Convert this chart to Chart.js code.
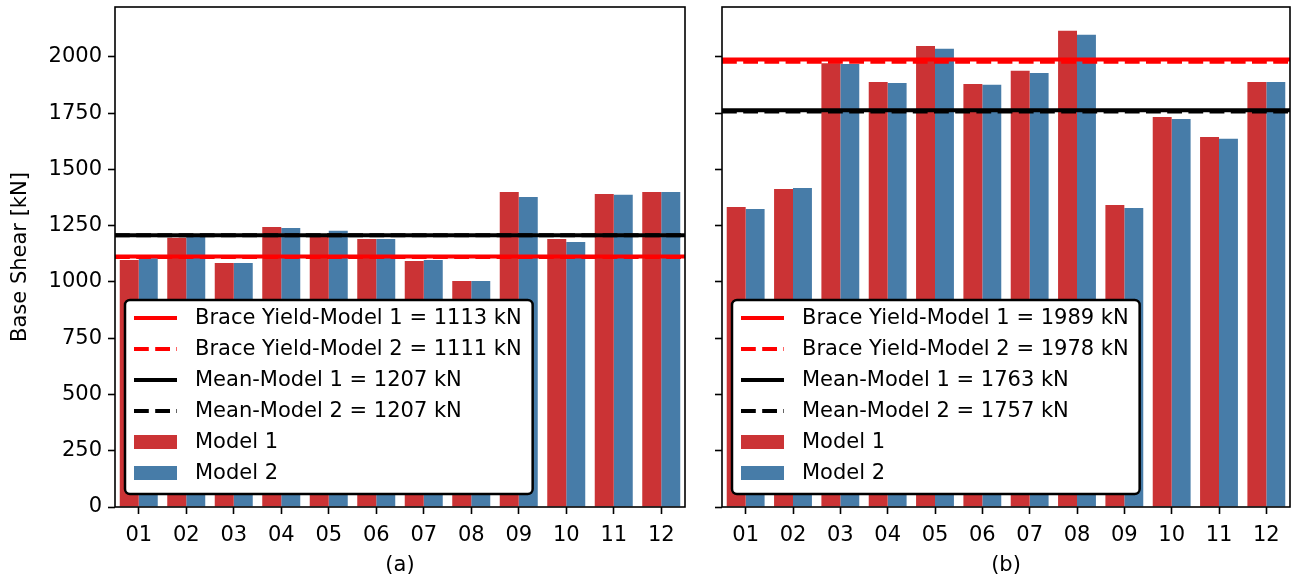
<!DOCTYPE html>
<html>
<head>
<meta charset="utf-8">
<title>Base Shear per Record</title>
<script src="https://cdn.jsdelivr.net/npm/chart.js@4.4.1/dist/chart.umd.min.js"></script>
<style>
  html, body { margin: 0; padding: 0; background: #fff; }
  #wrap { position: relative; width: 1293px; height: 579px; overflow: hidden; }
  #wrap canvas { position: absolute; top: 0; }
  #panelA { left: 0; }
  #panelB { left: 700px; }
</style>
</head>
<body>
<div id="wrap">
  <canvas id="panelA" width="700" height="579"></canvas>
  <canvas id="panelB" width="593" height="579"></canvas>
</div>
<script>
/* ── Data ──────────────────────────────────────────────── */

const records = ["01", "02", "03", "04", "05", "06", "07", "08", "09", "10", "11", "12"];

// (a) base shear per ground motion record [kN]
const shearA_model1 = [1098, 1196, 1084, 1244, 1205, 1191, 1093, 1004, 1400, 1191, 1391, 1400];
const shearA_model2 = [1105, 1203, 1084, 1240, 1227, 1191, 1098, 1004, 1378, 1178, 1387, 1400];

// (b) base shear per ground motion record [kN]
const shearB_model1 = [1333, 1413, 1972, 1889, 2049, 1880, 1938, 2116, 1342, 1733, 1644, 1889];
const shearB_model2 = [1324, 1418, 1968, 1884, 2036, 1876, 1929, 2098, 1329, 1724, 1636, 1889];

// reference levels [kN]: [Model 1, Model 2]
const braceYieldA = [1113, 1111];
const meanA = [1207, 1207];
const braceYieldB = [1989, 1978];
const meanB = [1763, 1757];

const yTicks = [0, 250, 500, 750, 1000, 1250, 1500, 1750, 2000];

/* ── Styling ───────────────────────────────────────────── */

const RED_BAR = "#cb3335";
const BLUE_BAR = "#477ca8";
const FONT = '"DejaVu Sans", "Liberation Sans", sans-serif';
const FONT_PX = 21;
const DASH = [14.8, 6.4];

Chart.defaults.font.family = FONT;
Chart.defaults.font.size = FONT_PX;
Chart.defaults.color = "#000";

// shared y range, autoscaled with a 5% top margin
const Y_MAX = Math.max(...shearA_model1, ...shearA_model2, ...shearB_model1, ...shearB_model2) * 1.05;

/* ── Plugins ───────────────────────────────────────────── */

// Horizontal reference lines across the full plot width + the axes frame
const refLines = {
  id: "refLines",
  afterDatasetsDraw(chart, args, opts) {
    const { ctx, chartArea: a, scales: { y } } = chart;
    ctx.save();
    ctx.beginPath();
    ctx.rect(a.left, a.top, a.right - a.left, a.bottom - a.top);
    ctx.clip();
    for (const ln of opts.lines || []) {
      const py = y.getPixelForValue(ln.value);
      ctx.beginPath();
      ctx.setLineDash(ln.dashed ? DASH : []);
      ctx.lineWidth = 4;
      ctx.strokeStyle = ln.color;
      ctx.moveTo(a.left, py);
      ctx.lineTo(a.right, py);
      ctx.stroke();
    }
    ctx.restore();

    ctx.save();
    ctx.lineWidth = 1.6;
    ctx.strokeStyle = "#000";
    ctx.strokeRect(a.left, a.top, a.right - a.left, a.bottom - a.top);
    ctx.restore();
  },
};

// Framed legend in the lower-left corner of the plot
const boxLegend = {
  id: "boxLegend",
  afterDraw(chart, args, opts) {
    const { ctx, chartArea: a } = chart;
    const items = opts.items || [];
    ctx.save();
    ctx.font = FONT_PX + "px " + FONT;
    const textW = Math.max(...items.map((it) => ctx.measureText(it.text).width));
    const rowH = 31;
    const h = items.length * rowH + 8;
    const w = 70 + textW + 11;
    const x0 = a.left + 10;
    const y0 = a.bottom - 13 - h;

    ctx.beginPath();
    ctx.roundRect(x0, y0, w, h, 5);
    ctx.fillStyle = "#fff";
    ctx.fill();
    ctx.lineWidth = 2.5;
    ctx.strokeStyle = "#000";
    ctx.stroke();

    items.forEach((it, i) => {
      const cy = y0 + 18 + i * rowH;
      if (it.kind === "line") {
        ctx.beginPath();
        ctx.setLineDash(it.dashed ? DASH : []);
        ctx.lineWidth = 4;
        ctx.strokeStyle = it.color;
        ctx.moveTo(x0 + 9, cy);
        ctx.lineTo(x0 + 52, cy);
        ctx.stroke();
        ctx.setLineDash([]);
      } else {
        ctx.fillStyle = it.color;
        ctx.fillRect(x0 + 9, cy - 7, 43, 14);
      }
      ctx.fillStyle = "#000";
      ctx.textBaseline = "middle";
      ctx.textAlign = "left";
      ctx.fillText(it.text, x0 + 70, cy + 1);
    });
    ctx.restore();
  },
};

/* ── Chart builder ─────────────────────────────────────── */

function legendItems(yieldVals, meanVals) {
  return [
    { kind: "line", color: "#ff0000", dashed: false, text: `Brace Yield-Model 1 = ${yieldVals[0]} kN` },
    { kind: "line", color: "#ff0000", dashed: true, text: `Brace Yield-Model 2 = ${yieldVals[1]} kN` },
    { kind: "line", color: "#000000", dashed: false, text: `Mean-Model 1 = ${meanVals[0]} kN` },
    { kind: "line", color: "#000000", dashed: true, text: `Mean-Model 2 = ${meanVals[1]} kN` },
    { kind: "box", color: RED_BAR, text: "Model 1" },
    { kind: "box", color: BLUE_BAR, text: "Model 2" },
  ];
}

function buildPanel(canvasId, cfg) {
  const tickMarks = { display: true, drawOnChartArea: false, drawTicks: true, tickLength: 7, tickWidth: 1.6, tickColor: "#000", offset: false };
  return new Chart(document.getElementById(canvasId), {
    type: "bar",
    data: {
      labels: records,
      datasets: [
        { label: "Model 1", data: cfg.model1, backgroundColor: RED_BAR, borderWidth: 0 },
        { label: "Model 2", data: cfg.model2, backgroundColor: BLUE_BAR, borderWidth: 0 },
      ],
    },
    options: {
      responsive: false,
      animation: false,
      devicePixelRatio: 1,
      layout: { padding: { left: 0, right: cfg.padRight, top: 7, bottom: 0 } },
      datasets: { bar: { categoryPercentage: 0.8, barPercentage: 1.0 } },
      plugins: {
        legend: { display: false },
        tooltip: { enabled: false },
        refLines: {
          lines: [
            { value: cfg.yieldVals[0], color: "#ff0000", dashed: false },
            { value: cfg.yieldVals[1], color: "#ff0000", dashed: true },
            { value: cfg.meanVals[0], color: "#000000", dashed: false },
            { value: cfg.meanVals[1], color: "#000000", dashed: true },
          ],
        },
        boxLegend: { items: legendItems(cfg.yieldVals, cfg.meanVals) },
      },
      scales: {
        x: {
          offset: true,
          grid: tickMarks,
          border: { display: false },
          ticks: { padding: 9, maxRotation: 0, autoSkip: false },
          title: { display: true, text: cfg.title, padding: { top: 0, bottom: 1 } },
          afterFit(scale) {
            scale.height = 72;
            scale.paddingLeft = 0;
            scale.paddingRight = 0;
          },
        },
        y: {
          min: 0,
          max: Y_MAX,
          grid: tickMarks,
          border: { display: false },
          afterBuildTicks(scale) { scale.ticks = yTicks.map((v) => ({ value: v })); },
          ticks: {
            padding: 6,
            callback: (v) => (cfg.showYLabels ? String(v) : ""),
          },
          title: { display: cfg.showYLabels, text: "Base Shear [kN]", padding: { top: 8, bottom: 0 } },
          afterFit(scale) {
            scale.width = cfg.yAxisWidth;
            scale.paddingTop = 0;
            scale.paddingBottom = 0;
          },
        },
      },
    },
    plugins: [refLines, boxLegend],
  });
}

/* ── Panels ────────────────────────────────────────────── */

buildPanel("panelA", {
  model1: shearA_model1,
  model2: shearA_model2,
  yieldVals: braceYieldA,
  meanVals: meanA,
  title: "(a)",
  showYLabels: true,
  yAxisWidth: 115,
  padRight: 15,
});

buildPanel("panelB", {
  model1: shearB_model1,
  model2: shearB_model2,
  yieldVals: braceYieldB,
  meanVals: meanB,
  title: "(b)",
  showYLabels: false,
  yAxisWidth: 22,
  padRight: 3,
});
</script>
</body>
</html>
